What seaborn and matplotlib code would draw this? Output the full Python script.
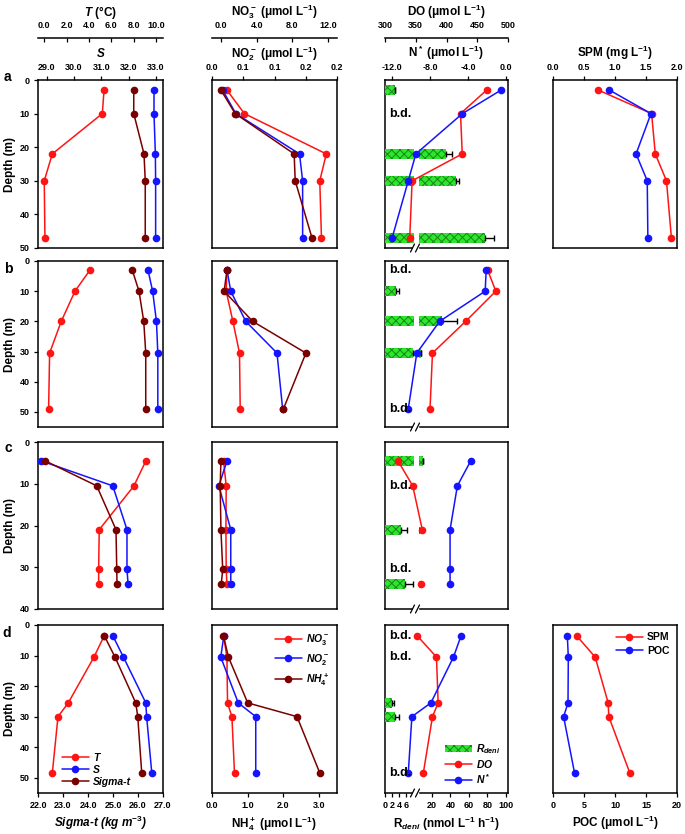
import numpy as np
import matplotlib.pyplot as plt
import matplotlib.transforms as mtransforms
from matplotlib.lines import Line2D
from matplotlib.patches import Rectangle
import seaborn as sns

nan = np.nan

# sampling depths (m) at stations a-d
depth_a = [3, 10, 22, 30, 47]
depth_b = [3, 10, 20, 30.5, 49]
depth_c = [4.5, 10.5, 21, 30.5, 34]
depth_d = [3.5, 10.5, 25.5, 30, 48.5]

# temperature (C)
temp_a = [5.35, 5.2, 0.72, 0.0, 0.06]
temp_b = [4.09, 2.75, 1.52, 0.48, 0.39]
temp_c = [9.1, 8.03, 4.92, 4.87, 4.87]
temp_d = [5.37, 4.45, 2.15, 1.23, 0.72]

# salinity
sal_a = [32.93, 32.93, 32.98, 32.99, 32.99]
sal_b = [32.71, 32.88, 33.02, 33.07, 33.07]
sal_c = [28.79, 31.42, 31.94, 31.94, 31.98]
sal_d = [31.42, 31.81, 32.63, 32.66, 32.85]

# sigma-t (kg m-3)
sig_a = [25.83, 25.83, 26.24, 26.29, 26.29]
sig_b = [25.77, 26.04, 26.23, 26.31, 26.31]
sig_c = [22.28, 24.35, 25.12, 25.15, 25.16]
sig_d = [24.65, 25.08, 25.91, 25.99, 26.15]

# nutrients (umol L-1)
no3_a = [0.67, 2.63, 11.8, 11.07, 11.26]
no3_b = [0.67, 0.59, 1.34, 2.08, 2.16]
no3_c = [0.29, 0.59, 0.56, 0.59, 0.67]
no3_d = [0.29, 0.67, 0.74, 1.23, 1.52]

no2_a = [0.017, 0.038, 0.140, 0.145, 0.145]
no2_b = [0.024, 0.030, 0.054, 0.104, 0.113]
no2_c = [0.024, 0.011, 0.030, 0.030, 0.030]
no2_d = [0.019, 0.014, 0.042, 0.070, 0.070]

nh4_a = [0.25, 0.65, 2.30, 2.33, 2.80]
nh4_b = [0.42, 0.34, 1.14, 2.63, 2.00]
nh4_c = [0.25, 0.23, 0.25, 0.30, 0.26]
nh4_d = [0.32, 0.46, 1.00, 2.38, 3.02]

# dissolved oxygen (umol L-1) and N* (umol L-1)
do_a = [465.3, 422.8, 425.6, 344.1, 340.2]
do_b = [466.9, 480.2, 431.1, 377.2, 373.2]
do_c = [321.0, 345.1, 360.6, nan, 359.0]
do_d = [352.3, 383.7, 386.4, 377.2, 362.3]

nstar_a = [-0.53, -4.6, -9.5, -10.3, -12.0]
nstar_b = [-2.1, -2.2, -7.0, -9.4, -10.3]
nstar_c = [-3.72, -5.13, -5.9, -5.9, -5.9]
nstar_d = [-4.74, -5.54, -7.92, -9.92, -10.3]

# denitrification rate (nmol L-1 h-1); nan = below detection
rdeni_a = [2.9, nan, 35, 46, 77]
rdeni_b = [nan, 3.1, 30.5, 8.0, nan]
rdeni_c = [10.0, nan, 4.6, nan, 5.7]
rdeni_d = [nan, nan, 1.9, 2.9, nan]

rdeni_err_a = [0.0, nan, 7, 3, 10]
rdeni_err_b = [nan, 1.0, 17, 0.6, nan]
rdeni_err_c = [0.5, nan, 1.8, nan, 2.2]
rdeni_err_d = [nan, nan, 0.7, 1.2, nan]

# SPM (mg L-1) and POC (umol L-1), stations a and d only
spm_a = [0.73, 1.59, 1.65, 1.83, 1.91]
spm_d = [0.38, 0.68, 0.89, 0.90, 1.24]
poc_a = [9.1, 15.8, 13.4, 15.2, 15.3]
poc_d = [2.31, 2.47, 2.42, 1.71, 3.48]

DEPTH = [depth_a, depth_b, depth_c, depth_d]
TEMP = [temp_a, temp_b, temp_c, temp_d]
SAL = [sal_a, sal_b, sal_c, sal_d]
SIG = [sig_a, sig_b, sig_c, sig_d]
NO3 = [no3_a, no3_b, no3_c, no3_d]
NO2 = [no2_a, no2_b, no2_c, no2_d]
NH4 = [nh4_a, nh4_b, nh4_c, nh4_d]
DO = [do_a, do_b, do_c, do_d]
NSTAR = [nstar_a, nstar_b, nstar_c, nstar_d]
RDENI = [rdeni_a, rdeni_b, rdeni_c, rdeni_d]
RDENI_ERR = [rdeni_err_a, rdeni_err_b, rdeni_err_c, rdeni_err_d]
SPM = {0: spm_a, 3: spm_d}
POC = {0: poc_a, 3: poc_d}

RED, BLUE, DARK = '#ff1414', '#1414ff', '#7a0000'
GREEN, HATCH = '#2ee62e', '#138a13'

sns.set_style('ticks')
plt.rcParams['font.family'] = ['Liberation Sans', 'DejaVu Sans']
plt.rcParams['font.weight'] = 'bold'
plt.rcParams['axes.labelweight'] = 'bold'
plt.rcParams['axes.labelcolor'] = 'black'
plt.rcParams['text.color'] = 'black'
plt.rcParams['mathtext.fontset'] = 'custom'
plt.rcParams['mathtext.rm'] = 'Liberation Sans:bold'
plt.rcParams['mathtext.it'] = 'Liberation Sans:italic:bold'
plt.rcParams['mathtext.bf'] = 'Liberation Sans:bold'
plt.rcParams['hatch.linewidth'] = 0.7

W, H = 685, 834
fig = plt.figure(figsize=(W / 100, H / 100), dpi=100)

COLS = [(38, 163), (212, 337), (385, 508), (553, 677)]
ROWS = [(80, 248), (261, 427), (442, 609), (625, 793)]
YMAX = [50, 55, 40, 55]
BAR_H = [3.0, 3.3, 2.4, 3.3]
OUTER = 30.2  # pt, second top axis above the box


def box(x0, y0, x1, y1):
    return [x0 / W, 1 - y1 / H, (x1 - x0) / W, (y1 - y0) / H]


def frame(c, r):
    x0, x1 = COLS[c]
    y0, y1 = ROWS[r]
    ax = fig.add_axes(box(x0, y0, x1, y1))
    ax.set_ylim(YMAX[r], 0)
    for s in ax.spines.values():
        s.set_visible(True)
        s.set_color('black')
        s.set_linewidth(1.1)
    ax.tick_params(axis='both', direction='out', length=2.8, width=0.9,
                   labelsize=6.5, pad=3, colors='black')
    if c == 0:
        ax.set_yticks(range(0, min(YMAX[r], 50) + 1, 10))
        ax.set_ylabel('Depth (m)', fontsize=8.5, labelpad=3)
    else:
        ax.tick_params(axis='y', left=False, labelleft=False)
    return ax


def layer(ax, xlim):
    tw = ax.twiny()
    tw.set_xlim(xlim)
    for s in tw.spines.values():
        s.set_visible(False)
    tw.tick_params(axis='x', top=False, labeltop=False, bottom=False, labelbottom=False)
    return tw


def profile(ax, x, depth, color, xlim):
    x = np.asarray(x, float)
    depth = np.asarray(depth, float)
    idx = np.where(~np.isnan(x))[0]
    for run in np.split(idx, np.where(np.diff(idx) > 1)[0] + 1):
        sns.lineplot(x=x[run], y=depth[run], sort=False, estimator=None, color=color,
                     marker='o', markersize=5.5, markeredgewidth=0, linewidth=1.1,
                     ax=ax, legend=False)
    ax.set_xlim(xlim)
    ax.set_xlabel('')
    ax.set_ylabel('')
    return Line2D([], [], color=color, marker='o', markersize=5.5, markeredgewidth=0, lw=1.1)


def top_axis(tw, ticks, labels, title, outer=False):
    if outer:
        tw.spines['top'].set_visible(True)
        tw.spines['top'].set_linewidth(1.1)
        tw.spines['top'].set_color('black')
        tw.spines['top'].set_position(('outward', OUTER))
    tw.tick_params(axis='x', top=True, labeltop=True, direction='in' if outer else 'out',
                   length=2.8, width=0.9, labelsize=6.5, pad=5.5 if outer else 3,
                   colors='black')
    tw.set_xticks(ticks, labels)
    tw.set_xlabel(title, fontsize=8.5, labelpad=4)
    tw.xaxis.set_label_position('top')
    tw.xaxis.label.set_visible(True)


def bottom_axis(ax, ticks, labels, title, **kw):
    ax.tick_params(axis='x', bottom=True, labelbottom=True, top=False, labeltop=False)
    ax.set_xticks(ticks, labels)
    ax.set_xlabel(title, fontsize=8.5, labelpad=3, **kw)
    ax.xaxis.label.set_visible(True)


def no_x(ax):
    ax.tick_params(axis='x', bottom=False, labelbottom=False, top=False, labeltop=False)


def bar_axes(ax, r, x0, x1, xlim):
    y0, y1 = ROWS[r]
    b = fig.add_axes(box(x0, y0, x1, y1), sharey=ax)
    b.patch.set_visible(False)
    for s in b.spines.values():
        s.set_visible(False)
    b.set_xlim(xlim)
    b.yaxis.set_visible(False)
    b.tick_params(axis='x', bottom=False, labelbottom=False, direction='out',
                  length=2.8, width=0.9, labelsize=6.5, pad=3, colors='black')
    return b


def break_mark(r):
    x, y = 416, ROWS[r][1]
    fig.add_artist(Rectangle(((x - 3) / W, 1 - (y + 2) / H), 5 / W, 4 / H,
                             transform=fig.transFigure, color='white', zorder=10))
    for dx in (-3, 2):
        fig.add_artist(Line2D([(x + dx - 2.5) / W, (x + dx + 1.5) / W],
                              [1 - (y + 4) / H, 1 - (y - 4) / H],
                              transform=fig.transFigure, color='black', lw=0.9, zorder=11))


def fmt1(vals):
    return ['%.1f' % v for v in vals]


leg_it = dict(size=7.5, style='italic', weight='bold')

for r in range(4):
    dep = DEPTH[r]

    # --- column 1: T, S, sigma-t
    ax = frame(0, r)
    axT = layer(ax, (-0.56, 10.63))
    axS = layer(ax, (28.68, 33.26))
    axG = layer(ax, (22, 27))
    hT = profile(axT, TEMP[r], dep, RED, (-0.56, 10.63))
    hS = profile(axS, SAL[r], dep, BLUE, (28.68, 33.26))
    hG = profile(axG, SIG[r], dep, DARK, (22, 27))
    ax.set_xlim(22, 27)
    if r == 0:
        top_axis(axT, np.arange(0, 10.1, 2), fmt1(np.arange(0, 10.1, 2)), r'$T$ (°C)', outer=True)
        top_axis(axS, np.arange(29, 33.1, 1), fmt1(np.arange(29, 33.1, 1)), r'$S$')
    if r == 3:
        bottom_axis(ax, np.arange(22, 27.1, 1), fmt1(np.arange(22, 27.1, 1)),
                    r'Sigma-t (kg m$^{-3}$)', fontstyle='italic')
        axG.legend([hT, hS, hG], ['T', 'S', 'Sigma-t'], loc='lower left',
                   bbox_to_anchor=(0.14, 0.0), frameon=False, prop=leg_it,
                   handlelength=2.6, labelspacing=0.2, handletextpad=0.4, borderaxespad=0.2)
    else:
        no_x(ax)
    ax.set_ylim(YMAX[r], 0)

    # --- column 2: nutrients
    ax = frame(1, r)
    ax3 = layer(ax, (-1, 13))
    ax2 = layer(ax, (0, 0.2))
    ax4 = layer(ax, (0, 3.5))
    h3 = profile(ax3, NO3[r], dep, RED, (-1, 13))
    h2 = profile(ax2, NO2[r], dep, BLUE, (0, 0.2))
    h4 = profile(ax4, NH4[r], dep, DARK, (0, 3.5))
    ax.set_xlim(0, 3.5)
    if r == 0:
        top_axis(ax3, [0, 4, 8, 12], ['0.0', '4.0', '8.0', '12.0'],
                 r'NO$_3^-$ (μmol L$^{-1}$)', outer=True)
        top_axis(ax2, [0, 0.05, 0.1, 0.15, 0.2], ['0.0', '0.1', '0.1', '0.2', '0.2'],
                 r'NO$_2^-$ (μmol L$^{-1}$)')
    if r == 3:
        bottom_axis(ax, [0, 1, 2, 3], ['0.0', '1.0', '2.0', '3.0'], r'NH$_4^+$ (μmol L$^{-1}$)')
        ax4.legend([h3, h2, h4], [r'$NO_3^-$', r'$NO_2^-$', r'$NH_4^+$'], loc='upper right',
                   bbox_to_anchor=(1.0, 1.0), frameon=False, prop=leg_it,
                   handlelength=2.6, labelspacing=0.45, handletextpad=0.4, borderaxespad=0.3)
    else:
        no_x(ax)
    ax.set_ylim(YMAX[r], 0)

    # --- column 3: denitrification bars, DO, N*
    ax = frame(2, r)
    ax.set_xlim(0, 1)
    bl = bar_axes(ax, r, 385, 413.5, (0, 8.14))
    br = bar_axes(ax, r, 419, 508, (5.95, 102.2))
    rd = np.asarray(RDENI[r], float)
    er = np.asarray(RDENI_ERR[r], float)
    ok = ~np.isnan(rd)
    dep_arr = np.asarray(dep, float)
    for b in (bl, br):
        bars = b.barh(dep_arr[ok], rd[ok], height=BAR_H[r], color=GREEN,
                      edgecolor=HATCH, hatch='xxxx', linewidth=0)
        b.errorbar(rd[ok], dep_arr[ok], xerr=[np.zeros(ok.sum()), er[ok]], fmt='none',
                   ecolor='black', elinewidth=1, capsize=2.5, capthick=1)
    axD = layer(ax, (300, 500))
    axN = layer(ax, (-12.75, 0.2))
    hD = profile(axD, DO[r], dep, RED, (300, 500))
    hN = profile(axN, NSTAR[r], dep, BLUE, (-12.75, 0.2))
    tr = mtransforms.blended_transform_factory(axN.transAxes, axN.transData)
    for d, v in zip(dep, rd):
        if np.isnan(v):
            axN.text(0.035, d, 'b.d.', transform=tr, ha='left', va='center',
                     fontsize=9, fontweight='bold')
    if r == 0:
        top_axis(axD, [300, 350, 400, 450, 500], ['300', '350', '400', '450', '500'],
                 'DO (μmol L$^{-1}$)', outer=True)
        top_axis(axN, [-12, -8, -4, 0], ['-12.0', '-8.0', '-4.0', '0.0'],
                 r'N$^*$ (μmol L$^{-1}$)')
    no_x(ax)
    if r == 3:
        bl.tick_params(axis='x', bottom=True, labelbottom=True)
        bl.set_xticks([0, 2, 4, 6], ['0', '2', '4', '6'])
        br.tick_params(axis='x', bottom=True, labelbottom=True)
        br.set_xticks([20, 40, 60, 80, 100], ['20', '40', '60', '80', '100'])
        ax.set_xlabel(r'R$_{deni}$ (nmol L$^{-1}$ h$^{-1}$)', fontsize=8.5, labelpad=16)
        axN.legend([bars, hD, hN], [r'$R_{deni}$', r'$DO$', r'$N^*$'], loc='lower right',
                   bbox_to_anchor=(1.0, 0.0), frameon=False, prop=leg_it,
                   handlelength=2.6, labelspacing=0.2, handletextpad=0.4, borderaxespad=0.3)
    ax.set_ylim(YMAX[r], 0)
    break_mark(r)

    # --- column 4: SPM and POC
    if r in SPM:
        ax = frame(3, r)
        axP = layer(ax, (0, 2))
        axC = layer(ax, (0, 20))
        hP = profile(axP, SPM[r], dep, RED, (0, 2))
        hC = profile(axC, POC[r], dep, BLUE, (0, 20))
        ax.set_xlim(0, 20)
        if r == 0:
            top_axis(axP, [0, 0.5, 1, 1.5, 2], ['0.0', '0.5', '1.0', '1.5', '2.0'],
                     'SPM (mg L$^{-1}$)')
            no_x(ax)
        else:
            bottom_axis(ax, [0, 5, 10, 15, 20], ['0', '5', '10', '15', '20'],
                        r'POC (μmol L$^{-1}$)')
            axC.legend([hP, hC], ['SPM', 'POC'], loc='upper right',
                       bbox_to_anchor=(1.0, 1.0), frameon=False,
                       prop=dict(size=7.5, weight='bold'), handlelength=2.6,
                       labelspacing=0.35, handletextpad=0.4, borderaxespad=0.3)
        ax.set_ylim(YMAX[r], 0)

for letter, (x, y) in zip('abcd', [(7, 77), (8, 269), (8, 448), (7, 633)]):
    fig.text(x / W, 1 - y / H, letter, fontsize=10, fontweight='bold', ha='center', va='center')

fig.savefig('out.png', dpi=100)
